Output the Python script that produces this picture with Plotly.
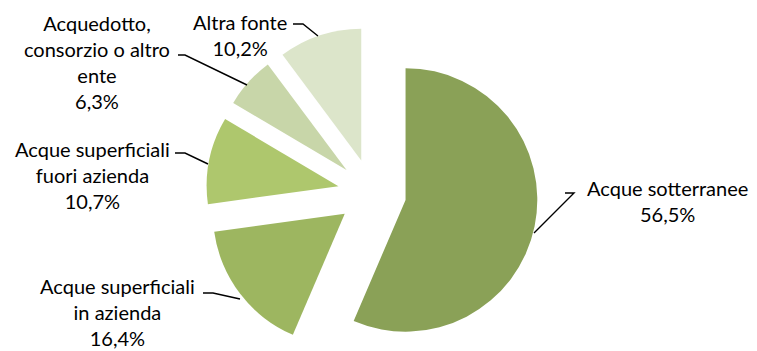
import plotly.graph_objects as go

W, H = 757, 351
OFF = 8  # page body margin: the figure is drawn 8px right/down of the window corner

categories = ["Acque sotterranee", "Acque superficiali in azienda",
              "Acque superficiali fuori azienda",
              "Acquedotto, consorzio o altro ente", "Altra fonte"]
values = [56.5, 16.4, 10.7, 6.3, 10.2]
label_text = ["Acque sotterranee<br>56,5%",
              "Acque superficiali<br>in azienda<br>16,4%",
              "Acque superficiali<br>fuori azienda<br>10,7%",
              "Acquedotto,<br>consorzio o altro<br>ente<br>6,3%",
              "Altra fonte<br>10,2%"]
colors = ["#8AA157", "#9DB660", "#AEC76D", "#C8D6A9", "#DCE5CA"]

# label centre positions and leader lines, in window pixels
label_pos = [(667, 201), (117, 312), (92, 175), (97, 62), (240, 35)]
leaders = [
    [(565, 193), (574, 193), (534, 233)],
    [(203, 293), (213, 293), (240, 299)],
    [(175, 153), (185, 153), (208, 164)],
    [(178, 55), (185, 55), (247, 85)],
    [(293, 24), (303, 24), (318, 36)],
]

# pie placement in window pixels: centre and outer extent (radius incl. pull)
PIE_CX, PIE_CY, PULL = 372, 193, 0.26
PIE_R = (H + OFF) - PIE_CY


def px(x, y):
    return (x - OFF) / W, 1 - (y - OFF) / H


cx_f, cy_f = PIE_CX - OFF, PIE_CY - OFF
fig = go.Figure(go.Pie(
    labels=categories, values=values, sort=False, direction="clockwise",
    rotation=0, pull=[PULL] * 5, textinfo="none", hoverinfo="label+percent",
    marker=dict(colors=colors, line=dict(width=0)),
    domain=dict(x=[(cx_f - PIE_R) / W, (cx_f + PIE_R) / W],
                y=[0, 1 - (cy_f - PIE_R) / H]),
    showlegend=False,
))

for (lx, ly), t in zip(label_pos, label_text):
    ax, ay = px(lx, ly)
    fig.add_annotation(x=ax, y=ay, xref="paper", yref="paper", text=t,
                       showarrow=False, xanchor="center", yanchor="middle",
                       align="center", borderpad=0,
                       font=dict(family="Lato", size=20, color="#000000"))

for pts in leaders:
    path = "M " + " L ".join(f"{px(x, y)[0]:.5f},{px(x, y)[1]:.5f}" for x, y in pts)
    fig.add_shape(type="path", path=path, xref="paper", yref="paper",
                  line=dict(color="#000000", width=1.4))

fig.update_layout(width=W, height=H, margin=dict(l=0, r=0, t=0, b=0),
                  paper_bgcolor="white", plot_bgcolor="white")
fig.write_html("out.html")
